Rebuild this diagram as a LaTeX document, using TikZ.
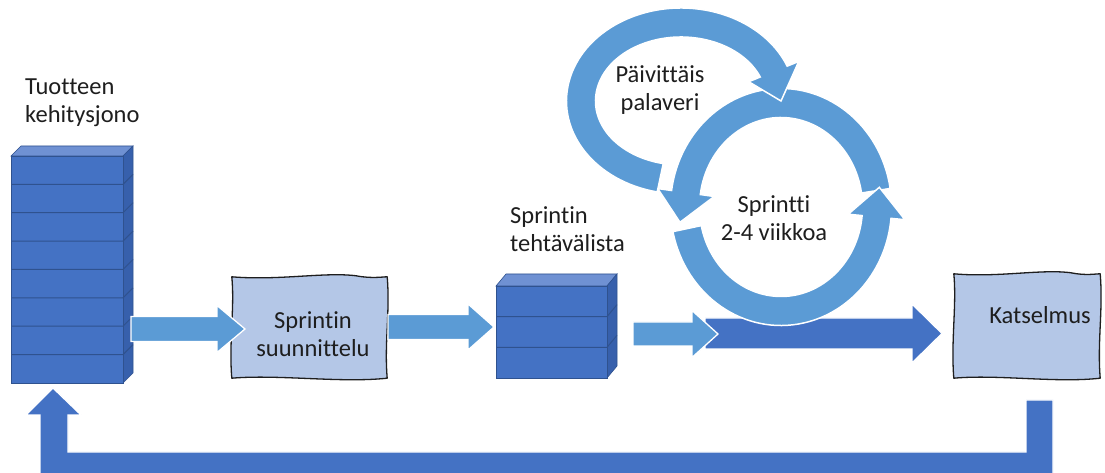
\documentclass[tikz,border=0pt]{standalone}
\usepackage{fontspec}
\setmainfont{Carlito}[Ligatures=CommonOff]
\usetikzlibrary{calc}

\definecolor{ringblue}{HTML}{5B9BD5}
\definecolor{deepblue}{HTML}{4472C4}
\definecolor{slabtop}{HTML}{6F91D3}
\definecolor{slabside}{HTML}{3760AC}
\definecolor{slabedge}{HTML}{2F528F}
\definecolor{paleblue}{HTML}{B4C7E7}
\definecolor{inkgray}{HTML}{1E1E1E}

\tikzset{
  lbl/.style={font=\fontsize{24.5}{28}\selectfont, text=inkgray, inner sep=0pt, align=center},
  lblleft/.style={lbl, align=left, anchor=west},
  lightarrow/.style={fill=ringblue, draw=white, line width=1.3pt},
  darkarrow/.style={fill=deepblue, draw=white, line width=1.3pt},
  ringarrow/.style={fill=ringblue, draw=white, line width=1.5pt},
  sketchframe/.style={fill=paleblue, draw=inkgray, line width=1.3pt, line join=round},
  boxholder/.style={draw=none, fill=none, inner sep=0pt},
}

% stack of slabs: x0, bottom y, width, height, number of slabs, depth dx, depth dy
\newcommand\drawslabs[7]{%
  \fill[slabtop, draw=slabedge, line width=0.6pt]
    (#1,#2+#4) -- ++(#6,#7) -- ++(#3,0) -- ++(-#6,-#7) -- cycle;
  \fill[slabside, draw=slabedge, line width=0.6pt]
    (#1+#3,#2) -- ++(#6,#7) -- ++(0,#4) -- ++(-#6,-#7) -- cycle;
  \fill[deepblue, draw=slabedge, line width=0.6pt] (#1,#2) rectangle ++(#3,#4);
  \pgfmathtruncatemacro\lastdiv{#5-1}%
  \foreach \k in {1,...,\lastdiv}{%
    \draw[slabedge, line width=1pt] (#1,{#2+\k*#4/#5}) -- ++(#3,0) -- ++(#6,#7);
  }%
}

% block arrow: x start, centre y, head start x, tip x, shaft half height, head half height
\newcommand\blockarrow[7]{%
  \draw[#1] (#2,#3-#6) -- (#4,#3-#6) -- (#4,#3-#7) -- (#5,#3)
    -- (#4,#3+#7) -- (#4,#3+#6) -- (#2,#3+#6) -- cycle;
}

% hand-drawn looking frame around a named node
\newcommand\sketchbox[1]{%
  \draw[sketchframe] (#1.north west)
    .. controls ($(#1.north west)!0.3!(#1.north east)+(0,-4)$)
            and ($(#1.north west)!0.6!(#1.north east)+(0,5)$)
    .. ($(#1.north west)!0.8!(#1.north east)+(0,1)$)
    .. controls ($(#1.north west)!0.9!(#1.north east)+(0,-2)$)
            and ($(#1.north east)+(-4,0)$) .. (#1.north east)
    .. controls ($(#1.north east)!0.35!(#1.south east)+(3,0)$)
            and ($(#1.north east)!0.65!(#1.south east)+(-3,0)$) .. (#1.south east)
    .. controls ($(#1.south east)!0.3!(#1.south west)+(0,-5)$)
            and ($(#1.south east)!0.7!(#1.south west)+(0,4)$) .. (#1.south west)
    .. controls ($(#1.south west)!0.35!(#1.north west)+(-3,0)$)
            and ($(#1.south west)!0.7!(#1.north west)+(3,0)$) .. (#1.north west)
    -- cycle;
}

\begin{document}
\begin{tikzpicture}[x=1pt, y=1pt]
  \useasboundingbox (0,0) rectangle (1105,473);
  \fill[white] (0,0) rectangle (1105,473);
  \clip (0,0) rectangle (1105,473);

  % product backlog and sprint backlog stacks
  \drawslabs{11}{90}{112}{227}{8}{10}{10}
  \drawslabs{496}{95}{111}{92}{3}{10}{12}

  % planning and review frames
  \node[boxholder, minimum width=155pt, minimum height=101pt] (plan) at (309.5,145.5) {};
  \sketchbox{plan}
  \node[boxholder, minimum width=146pt, minimum height=104pt] (review) at (1027,147) {};
  \sketchbox{review}

  % flow arrows
  \blockarrow{lightarrow}{131}{144}{217}{245}{12.5}{23.5}
  \blockarrow{lightarrow}{388}{146}{468}{494}{12.5}{23}
  \blockarrow{darkarrow}{705}{139.5}{912}{942}{15.5}{29.5}
  \blockarrow{lightarrow}{633}{139}{692}{718}{12}{23.5}

  % return arrow from review back to the backlog
  \draw[darkarrow] (1026,73) -- (1053,73) -- (1053,-5) -- (40,-5) -- (40,58)
    -- (26,58) -- (53,85) -- (81,58) -- (68,58) -- (68,21) -- (1026,21) -- cycle;

  % sprint cycle
  \coordinate (bigc) at (781,266);
  \coordinate (smallc) at (681,372);
  \draw[ringarrow] ($(bigc)+(9:110.5pt and 118.5pt)$)
    arc[start angle=9, end angle=172, x radius=110.5pt, y radius=118.5pt]
    -- ($(bigc)+(172:124.5pt and 132.5pt)$)
    -- ($(bigc)+(188:102pt and 110pt)$)
    -- ($(bigc)+(172:67.5pt and 75.5pt)$)
    -- ($(bigc)+(172:81.5pt and 89.5pt)$)
    arc[start angle=172, end angle=9, x radius=81.5pt, y radius=89.5pt]
    -- cycle;
  \draw[ringarrow] ($(bigc)+(192:110.5pt and 118.5pt)$)
    arc[start angle=192, end angle=354.5, x radius=110.5pt, y radius=118.5pt]
    -- ($(bigc)+(354.5:124.5pt and 132.5pt)$)
    -- ($(bigc)+(10.5:100pt and 108pt)$)
    -- ($(bigc)+(354.5:67.5pt and 75.5pt)$)
    -- ($(bigc)+(354.5:81.5pt and 89.5pt)$)
    arc[start angle=354.5, end angle=192, x radius=81.5pt, y radius=89.5pt]
    -- cycle;

  % daily meeting loop
  \draw[ringarrow] ($(smallc)+(258:114.5pt and 93pt)$)
    arc[start angle=258, end angle=22, x radius=114.5pt, y radius=93pt]
    -- ($(smallc)+(22:127pt and 105.5pt)$)
    -- ($(smallc)+(0:100pt and 78.5pt)$)
    -- ($(smallc)+(22:73pt and 51.5pt)$)
    -- ($(smallc)+(22:85.5pt and 64pt)$)
    arc[start angle=22, end angle=258, x radius=85.5pt, y radius=64pt]
    -- cycle;

  % labels
  \node[lblleft] (backlog) at (25,370) {Tuotteen\\kehitysjono};
  \node[lblleft] (sprintlist) at (510,244) {Sprintin\\tehtävälista};
  \node[lbl] (daily) at (660,382.5) {Päivittäis\\palaveri};
  \node[lbl] (sprint) at (774,255) {Sprintti\\2-4 viikkoa};
  \node[lbl] (plantext) at (313,139) {Sprintin\\suunnittelu};
  \node[lbl] (reviewtext) at (1040,157.5) {Katselmus};
\end{tikzpicture}
\end{document}
